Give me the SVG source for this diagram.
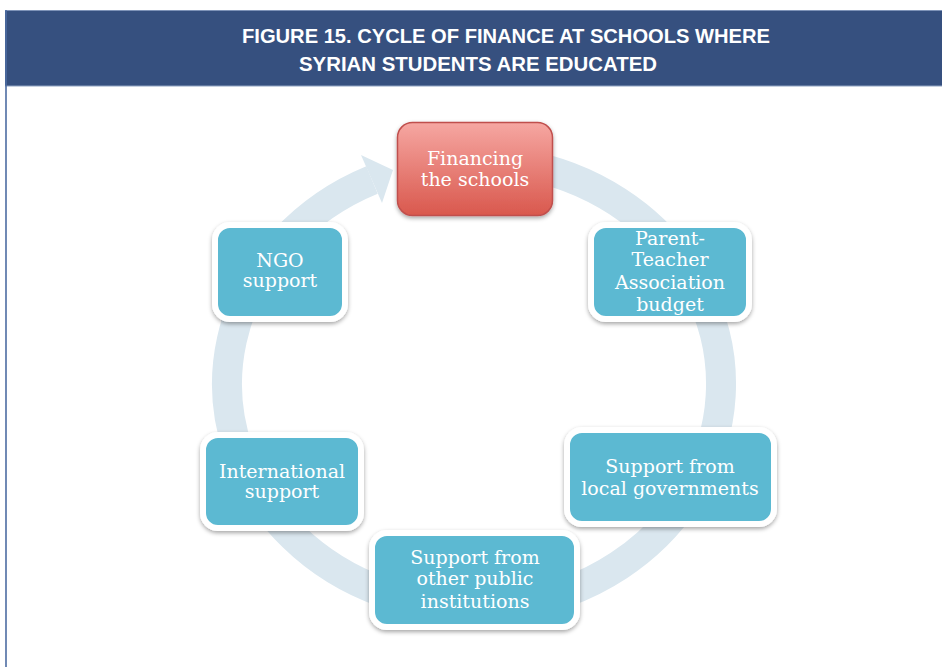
<svg xmlns="http://www.w3.org/2000/svg" width="942" height="667" viewBox="0 0 942 667">
<defs>
<style>
.hdr{font-family:"Liberation Sans Narrow","Liberation Sans",Arial,sans-serif;font-weight:bold;font-size:21px;fill:#fff}
.lbl{font-family:"DejaVu Serif","Liberation Serif",serif;font-size:19px;fill:#fff;text-anchor:middle}
.box{fill:#5BB9D2;stroke:#fff;stroke-width:6}
</style>
<linearGradient id="red" x1="0" y1="0" x2="0" y2="1">
<stop offset="0" stop-color="#F6A7A2"/>
<stop offset="1" stop-color="#D9584D"/>
</linearGradient>
<filter id="sh" x="-10%" y="-10%" width="120%" height="130%">
<feDropShadow dx="0" dy="2" stdDeviation="2" flood-color="#000" flood-opacity="0.35"/>
</filter>
</defs>
<rect x="0" y="0" width="942" height="667" fill="#fff"/>
<g id="header">
<rect x="5" y="10" width="937" height="76" fill="#36507F"/>
<line x1="5" y1="10.5" x2="942" y2="10.5" stroke="#7E93B8" stroke-width="1"/>
<line x1="5" y1="86" x2="942" y2="86" stroke="#8EA1C2" stroke-width="1.2"/>
<line x1="6" y1="10" x2="6" y2="667" stroke="#4D6CA2" stroke-width="1.6"/>
<text class="hdr" x="242" y="43" textLength="528" lengthAdjust="spacingAndGlyphs">FIGURE 15. CYCLE OF FINANCE AT SCHOOLS WHERE</text>
<text class="hdr" x="299" y="71" textLength="358" lengthAdjust="spacingAndGlyphs">SYRIAN STUDENTS ARE EDUCATED</text>
</g>
<g id="connectors">
<path d="M516.9,163.4 A247,224 0 1 1 372,180" fill="none" stroke="#DAE7EF" stroke-width="30"/>
<polygon points="361,155 393,170 382,203" fill="#DAE7EF"/>
</g>
<g id="n-financing">
<rect x="397.5" y="122.5" width="155" height="93" rx="15" fill="url(#red)" stroke="#C0504D" stroke-width="1.5" filter="url(#sh)"/>
<text class="lbl" x="475" y="165">Financing</text>
<text class="lbl" x="475" y="186">the schools</text>
</g>
<g id="n-pta">
<rect class="box" x="591" y="225" width="158" height="94" rx="15" filter="url(#sh)"/>
<text class="lbl" x="670" y="245">Parent-</text>
<text class="lbl" x="670" y="266">Teacher</text>
<text class="lbl" x="670" y="289">Association</text>
<text class="lbl" x="670" y="311">budget</text>
</g>
<g id="n-local">
<rect class="box" x="567" y="430" width="207" height="94" rx="15" filter="url(#sh)"/>
<text class="lbl" x="670" y="473">Support from</text>
<text class="lbl" x="670" y="495">local governments</text>
</g>
<g id="n-public">
<rect class="box" x="372" y="533" width="205" height="94" rx="15" filter="url(#sh)"/>
<text class="lbl" x="475" y="564">Support from</text>
<text class="lbl" x="475" y="585">other public</text>
<text class="lbl" x="475" y="608">institutions</text>
</g>
<g id="n-international">
<rect class="box" x="203" y="435" width="158" height="93" rx="15" filter="url(#sh)"/>
<text class="lbl" x="282" y="478">International</text>
<text class="lbl" x="282" y="498">support</text>
</g>
<g id="n-ngo">
<rect class="box" x="215" y="225" width="130" height="94" rx="15" filter="url(#sh)"/>
<text class="lbl" x="280" y="267">NGO</text>
<text class="lbl" x="280" y="287">support</text>
</g>
</svg>
